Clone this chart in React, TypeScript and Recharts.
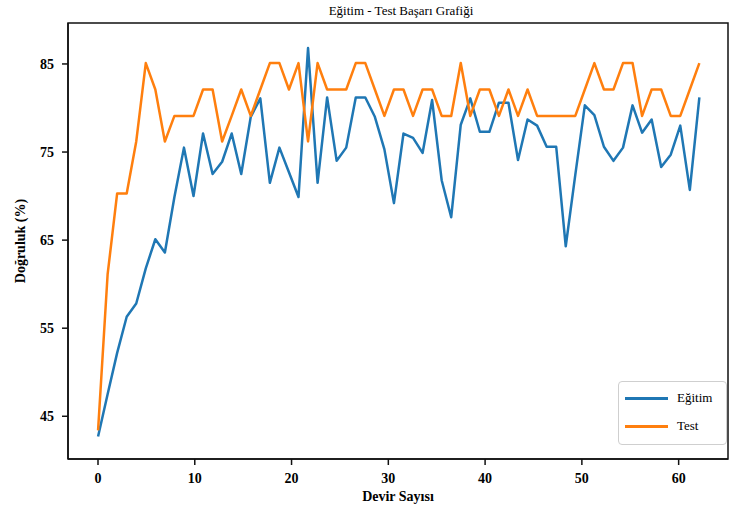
import React from 'react'
import { LineChart, Line, XAxis, YAxis, Legend, ReferenceArea } from 'recharts'

// values, one per epoch
const trainAcc = [
  42.7, 47.5, 52.2, 56.3, 57.8, 61.8, 65.1, 63.6, 69.9, 75.5,
  70.0, 77.1, 72.5, 73.9, 77.1, 72.5, 79.0, 81.1, 71.5, 75.5,
  72.7, 69.9, 86.8, 71.5, 81.2, 74.0, 75.5, 81.2, 81.2, 79.0,
  75.3, 69.2, 77.1, 76.6, 74.9, 80.9, 71.8, 67.6, 78.1, 81.1,
  77.3, 77.3, 80.6, 80.6, 74.1, 78.7, 78.0, 75.6, 75.6, 64.3,
  72.4, 80.3, 79.2, 75.6, 74.0, 75.5, 80.3, 77.2, 78.7, 73.3,
  74.7, 78.0, 70.7, 81.2,
]

const testAcc = [
  43.4, 61.1, 70.3, 70.3, 76.2, 85.1, 82.1, 76.2, 79.1, 79.1,
  79.1, 82.1, 82.1, 76.2, 79.1, 82.1, 79.1, 82.1, 85.1, 85.1,
  82.1, 85.1, 76.2, 85.1, 82.1, 82.1, 82.1, 85.1, 85.1, 82.1,
  79.1, 82.1, 82.1, 79.1, 82.1, 82.1, 79.1, 79.1, 85.1, 79.1,
  82.1, 82.1, 79.1, 82.1, 79.1, 82.1, 79.1, 79.1, 79.1, 79.1,
  79.1, 82.1, 85.1, 82.1, 82.1, 85.1, 85.1, 79.1, 82.1, 82.1,
  79.1, 79.1, 82.1, 85.1,
]

const epochTicks = [0, 10, 20, 30, 40, 50, 60]
const accuracyTicks = [45, 55, 65, 75, 85]

const pointDomain = [-3.15, 66]
const accDomain = [40.15, 89.65]

const serif = "'Liberation Serif', 'Times New Roman', serif"

const data = trainAcc.map((train, i) => ({ epoch: i, train, test: testAcc[i] }))

const axisLine = { stroke: '#111', strokeWidth: 1.5 }
const tickText = { fill: '#000', fontSize: 14, fontWeight: 'bold', fontFamily: serif }

// boxed legend like matplotlib's
const LegendBox = (props: any) => {
  const { payload } = props
  if (!payload) return null
  return (
    <div
      style={{
        position: 'relative',
        width: 109,
        height: 64,
        boxSizing: 'border-box',
        border: '1px solid #cfcfcf',
        borderRadius: 4,
        background: 'rgba(255,255,255,0.85)',
      }}
    >
      {payload.map((entry: any, index: number) => (
        <div
          key={`legend-${index}`}
          style={{
            position: 'absolute',
            left: 6,
            top: 7 + index * 28,
            height: 18,
            display: 'flex',
            alignItems: 'center',
          }}
        >
          <span style={{ display: 'inline-block', width: 43, height: 3, background: entry.color }} />
          <span style={{ marginLeft: 9, fontSize: 13, fontFamily: serif, color: '#000' }}>{entry.value}</span>
        </div>
      ))}
    </div>
  )
}

export default function App() {
  return (
    <div style={{ position: 'absolute', left: 0, top: 0, width: 731, height: 513, background: '#fff' }}>
      <div
        style={{
          position: 'absolute',
          left: 71,
          top: 3,
          width: 660,
          textAlign: 'center',
          fontFamily: serif,
          fontSize: 13,
          color: '#000',
          zIndex: 1,
        }}
      >
        Eğitim - Test Başarı Grafiği
      </div>
      <LineChart width={731} height={513} data={data} margin={{ top: 23, right: 3, bottom: 0, left: 0 }}>
        {/* visible epoch scale */}
        <XAxis
          xAxisId="epochAxis"
          dataKey="epoch"
          type="number"
          domain={[-3.1, 65.1]}
          allowDataOverflow
          ticks={epochTicks}
          height={54}
          tickSize={6}
          tickMargin={8}
          tick={tickText}
          axisLine={axisLine}
          tickLine={axisLine}
          label={{
            value: 'Devir Sayısı',
            position: 'insideBottom',
            offset: 12,
            fill: '#000',
            fontSize: 14,
            fontWeight: 'bold',
            fontFamily: serif,
          }}
        />
        {/* scale the points are placed on */}
        <XAxis xAxisId="epoch" dataKey="epoch" type="number" domain={pointDomain} allowDataOverflow height={0} hide />
        <YAxis
          yAxisId="acc"
          type="number"
          domain={accDomain}
          allowDataOverflow
          ticks={accuracyTicks}
          width={68}
          tickSize={6}
          tickMargin={8}
          tick={tickText}
          axisLine={axisLine}
          tickLine={axisLine}
          label={{
            value: 'Doğruluk (%)',
            angle: -90,
            position: 'insideLeft',
            offset: 20,
            fill: '#000',
            fontSize: 14,
            fontWeight: 'bold',
            fontFamily: serif,
            style: { textAnchor: 'middle' },
          }}
        />
        {/* plot frame */}
        <ReferenceArea
          xAxisId="epoch"
          yAxisId="acc"
          x1={pointDomain[0]}
          x2={pointDomain[1]}
          y1={accDomain[0]}
          y2={accDomain[1]}
          fill="none"
          fillOpacity={0}
          stroke="#111"
          strokeWidth={1.5}
          ifOverflow="visible"
        />
        <Legend
          layout="vertical"
          align="center"
          verticalAlign="middle"
          content={<LegendBox />}
          wrapperStyle={{ left: 618, top: 381, width: 109, height: 64 }}
        />
        <Line
          xAxisId="epoch"
          yAxisId="acc"
          dataKey="train"
          name="Eğitim"
          type="linear"
          stroke="#1f77b4"
          strokeWidth={2.5}
          strokeLinejoin="round"
          dot={false}
          activeDot={false}
          isAnimationActive={false}
        />
        <Line
          xAxisId="epoch"
          yAxisId="acc"
          dataKey="test"
          name="Test"
          type="linear"
          stroke="#ff7f0e"
          strokeWidth={2.5}
          strokeLinejoin="round"
          dot={false}
          activeDot={false}
          isAnimationActive={false}
        />
      </LineChart>
    </div>
  )
}
